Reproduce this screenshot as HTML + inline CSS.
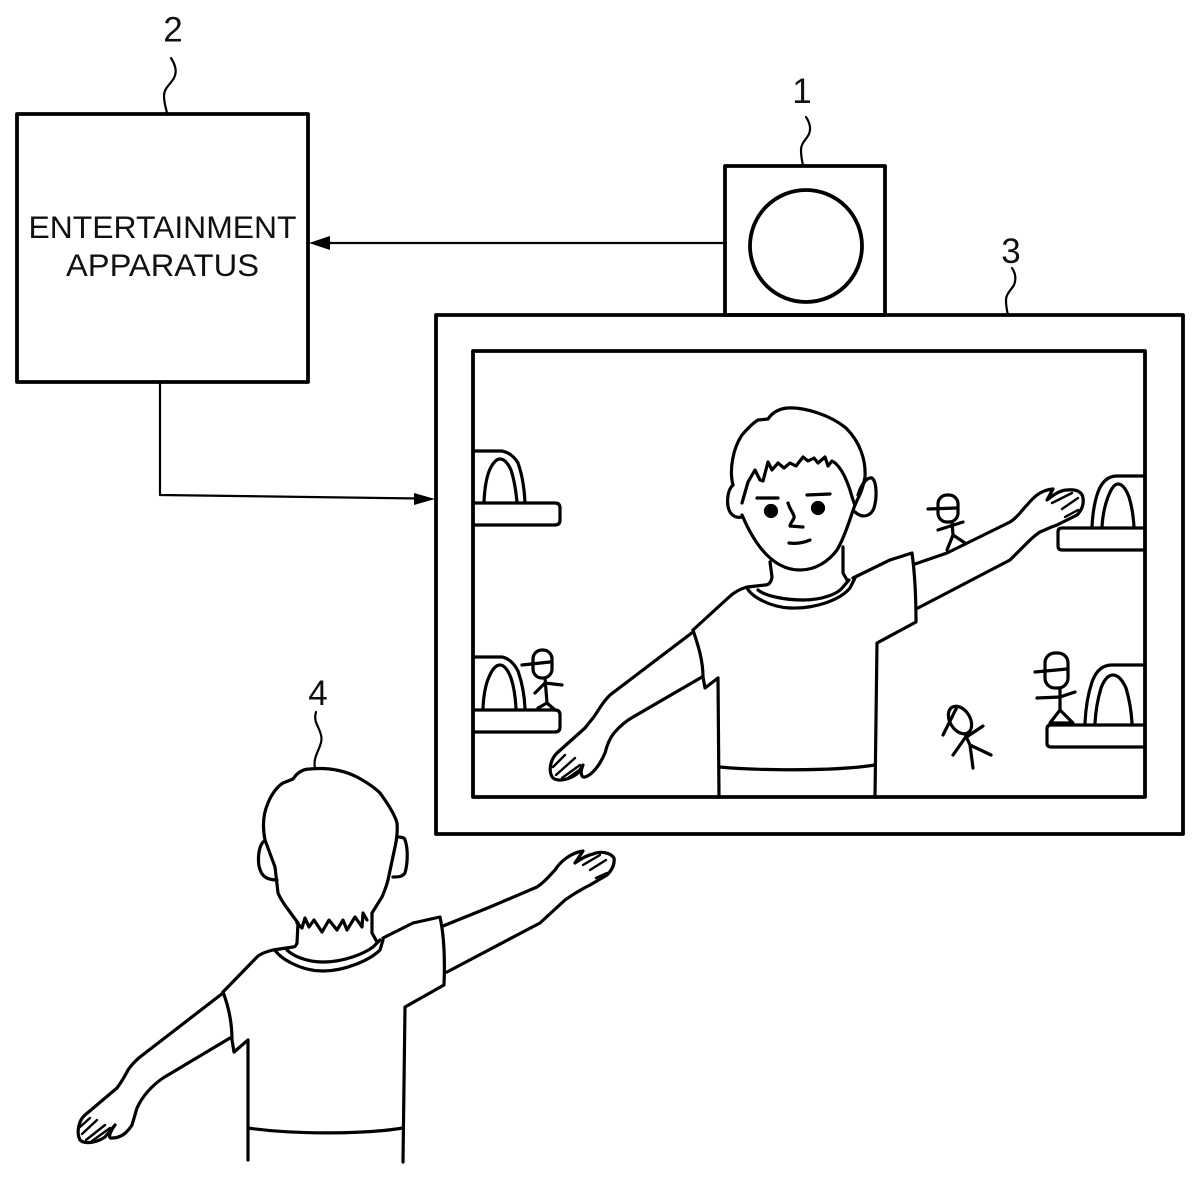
<!DOCTYPE html>
<html><head><meta charset="utf-8"><style>html,body{margin:0;padding:0;background:#fff}svg{display:block}text{font-family:"Liberation Sans",sans-serif;fill:#111;stroke:none}</style></head><body>
<svg width="1200" height="1177" viewBox="0 0 1200 1177" xmlns="http://www.w3.org/2000/svg">
<rect width="1200" height="1177" fill="#fff"/>
<g fill="none" stroke="#000" stroke-width="3.2" stroke-linejoin="round" stroke-linecap="round">
<!-- boxes -->
<g stroke-width="3.8">
<rect x="17" y="114" width="291" height="268"/>
<rect x="725" y="166" width="160" height="149"/>
<circle cx="806" cy="246" r="56"/>
<rect x="436" y="315" width="747" height="519"/>
<rect x="473" y="351" width="672" height="446"/>
</g>
<!-- connectors -->
<g stroke-width="2.2">
<path d="M725 243H325"/>
<path d="M160 382V495L420 498.5"/>
<!-- leaders -->
<path d="M171 58C176 66 177 72 174 78C170 85 164 88 164 96C164 103 166 108 167 113"/>
<path d="M806 117C810 123 811 129 809 134C806 140 801 143 801 150C801 156 802 161 803 165"/>
<path d="M1012 268C1016 274 1016 280 1014 285C1011 290 1006 294 1006 300C1006 306 1007 311 1008 315"/>
<path d="M315 768C312 755 324 746 321 735C319 726 313 722 316 712"/>
</g>
<g fill="#000" stroke="none">
<path d="M309 243L330 236V250Z"/>
<path d="M435 499L414 493V505Z"/>
</g>

<!-- platforms and arches -->
<path d="M474 503H555Q560 503 560 508V520Q560 525 555 525H474"/>
<path d="M474 451H502Q512 453 518 463Q524 480 525 503M484 502Q485 480 490 469Q495 459 500 459Q506 459 511 470Q515 482 517 502"/>
<path d="M474 710H555Q560 710 560 715V727Q560 732 555 732H474"/>
<path d="M474 657H502Q512 659 518 671Q524 688 525 708M483 708Q484 688 489 677Q494 665 500 665Q506 665 511 678Q515 690 516 708"/>
<path d="M1144 528H1062Q1058 528 1058 532V546Q1058 550 1062 550H1144"/>
<path d="M1092 527Q1093 506 1098 492Q1104 476 1117 476H1144M1102 527Q1103 510 1108 497Q1113 484 1118 484Q1124 484 1129 497Q1133 510 1134 527"/>
<path d="M1144 725H1051Q1047 725 1047 729V743Q1047 747 1051 747H1144"/>
<path d="M1085 723Q1086 700 1092 682Q1098 665 1112 665H1144M1095 723Q1096 705 1101 688Q1106 675 1113 675Q1120 675 1126 688Q1131 705 1132 723"/>

<!-- stick figures -->
<rect x="938" y="495" width="20" height="27" rx="9"/>
<path d="M928 509L957 508M952 522L953 535L947 550M953 535L965 543M938 530L963 522"/>
<rect x="533" y="650" width="19" height="28" rx="9"/>
<path d="M522 665L550 662M545 678L547 703L538 708M547 703L555 710M535 693L545 683L562 685"/>
<rect x="1045" y="653" width="23" height="35" rx="10"/>
<path d="M1035 672L1067 669M1060 688V710L1050 723H1073L1060 710M1037 698L1060 697L1075 692"/>
<ellipse cx="960" cy="720" rx="10" ry="15" transform="rotate(-32 960 720)"/>
<path d="M943 735L957 707M965 734L970 745L973 768M970 745L991 755M953 755L965 738L983 726"/>

<!-- front person -->
<path d="M733 485C729 470 733 448 742 435C748 428 753 423 758 420L768 419C772 413 778 409 787 408C805 407 830 415 846 428C860 442 866 460 865 477C863 490 858 498 855 505C852 512 846 535 837 550C828 562 815 570 800 570C785 570 770 562 757 543C750 533 745 522 742 515"/>
<path d="M742 503L748 482L755 470L760 480L763 481L768 462L772 470L778 463L784 468L790 463L796 466L803 457L808 461L814 458L818 463L825 457L828 466L832 461C840 465 846 478 850 490C852 497 854 503 855 505"/>
<path d="M733 485C727 490 726 505 730 512C733 517 738 518 742 517"/>
<path d="M858 495C862 482 868 477 872 478C877 482 877 498 874 508C871 516 863 519 855 512"/>
<path d="M770 562L772 577C771 583 768 585 765 585L747 587C740 589 733 593 728 598L693 630"/>
<path d="M843 547L843 573L847 580"/>
<path d="M747 588C752 597 770 607 790 608C815 609 840 600 850 588L855 578M758 590C765 596 785 600 803 600C822 600 838 594 843 587L849 580"/>
<path d="M853 578L890 560L912 553C915 575 916 600 916 622L877 643L875 797"/>
<path d="M693 630C698 645 703 660 703 677L705 688L718 678L719 797"/>
<path d="M720 767C750 770 830 772 875 765"/>
<path d="M693 632L610 695C600 705 598 712 593 718L585 728L557 753C550 760 548 772 553 778C560 783 572 778 578 773L583 765C580 772 581 778 585 777C592 775 600 765 605 753C607 745 610 738 614 733C620 726 626 721 633 717L702 677"/>
<path d="M915 564L947 553L1010 522C1017 518 1022 510 1027 505C1033 498 1040 490 1053 489L1047 500C1053 495 1060 490 1067 490C1075 489 1082 491 1083 498C1084 505 1081 511 1077 515L1057 525C1048 528 1045 530 1040 532C1035 535 1030 540 1027 543L1010 560L918 608"/>
<path stroke-width="2.4" d="M1052 503L1072 493M1062 509L1078 498M1065 517L1078 510"/>
<path stroke-width="2.4" d="M553 767L565 755M556 775L575 758M562 778L580 765M568 778L582 768"/>
<path d="M757 498H778M807 495L830 494M788 503C790 510 795 515 794 518C792 522 790 524 790 526L803 527M789 543C796 544 803 543 810 540"/>
<circle cx="771" cy="511" r="5.5" fill="#000"/>
<circle cx="818" cy="508" r="5.5" fill="#000"/>

<!-- back person -->
<path d="M265 840C262 825 264 812 268 803C272 793 278 786 283 783L293 779C297 773 303 769 310 769C330 767 345 771 357 777C368 783 375 788 380 793C388 804 395 815 397 823C398 835 396 842 395 847L388 880C386 888 384 892 382 897L372 913"/>
<path d="M265 840L275 867L278 893C281 900 284 904 287 908L298 923"/>
<path d="M297 923L302 928L305 918L309 927L314 920L322 932L329 920L337 930L343 920L347 930L355 917L362 927L363 913L367 920"/>
<path d="M263 842C258 848 258 860 259 866C261 875 265 880 277 880"/>
<path d="M397 837C402 837 405 838 405 840C408 848 408 862 405 873C402 877 398 877 393 877"/>
<path d="M298 923L297 943C296 946 295 947 293 947L273 950C265 952 260 954 257 957L223 992"/>
<path d="M372 913L372 933L377 942"/>
<path d="M275 950C280 958 300 971 323 971C345 971 370 960 380 950L383 940M287 950C292 955 305 962 323 962C345 962 365 953 373 947L380 940"/>
<path d="M383 938L413 923L440 917C444 935 445 960 444 985L405 1007L403 1162"/>
<path d="M223 992C228 1005 232 1020 232 1040L234 1052L248 1040V1160"/>
<path d="M248 1128C290 1134 360 1135 403 1128"/>
<path d="M223 993L140 1057C134 1062 130 1067 128 1070C124 1078 120 1084 117 1088L85 1115C79 1120 76 1132 80 1140C85 1145 98 1142 105 1137L115 1125C109 1133 108 1139 112 1138C120 1138 127 1133 132 1125L137 1108C143 1095 153 1085 163 1078L230 1038"/>
<path d="M443 926L490 907L537 887C545 882 550 875 555 870C560 862 570 853 583 851L575 863C582 858 588 855 593 854C600 851 610 852 614 858C615 865 611 871 607 875L590 885C580 890 572 895 565 900L540 923L447 972"/>
<path stroke-width="2.4" d="M583 865L600 855M590 870L606 860M596 878L607 873"/>
<path stroke-width="2.4" d="M80 1127L90 1118M82 1134L97 1120M86 1140L105 1125M92 1141L110 1128"/>
</g>
<!-- labels -->
<text x="162.5" y="238" font-size="31.5" text-anchor="middle" textLength="268" lengthAdjust="spacingAndGlyphs">ENTERTAINMENT</text>
<text x="162.5" y="276" font-size="31.5" text-anchor="middle" textLength="193" lengthAdjust="spacingAndGlyphs">APPARATUS</text>
<text x="173" y="41.5" font-size="35" text-anchor="middle">2</text>
<text x="802" y="103" font-size="35" text-anchor="middle">1</text>
<text x="1011" y="263" font-size="35" text-anchor="middle">3</text>
<text x="318" y="705" font-size="35" text-anchor="middle">4</text>
</svg>
</body></html>
